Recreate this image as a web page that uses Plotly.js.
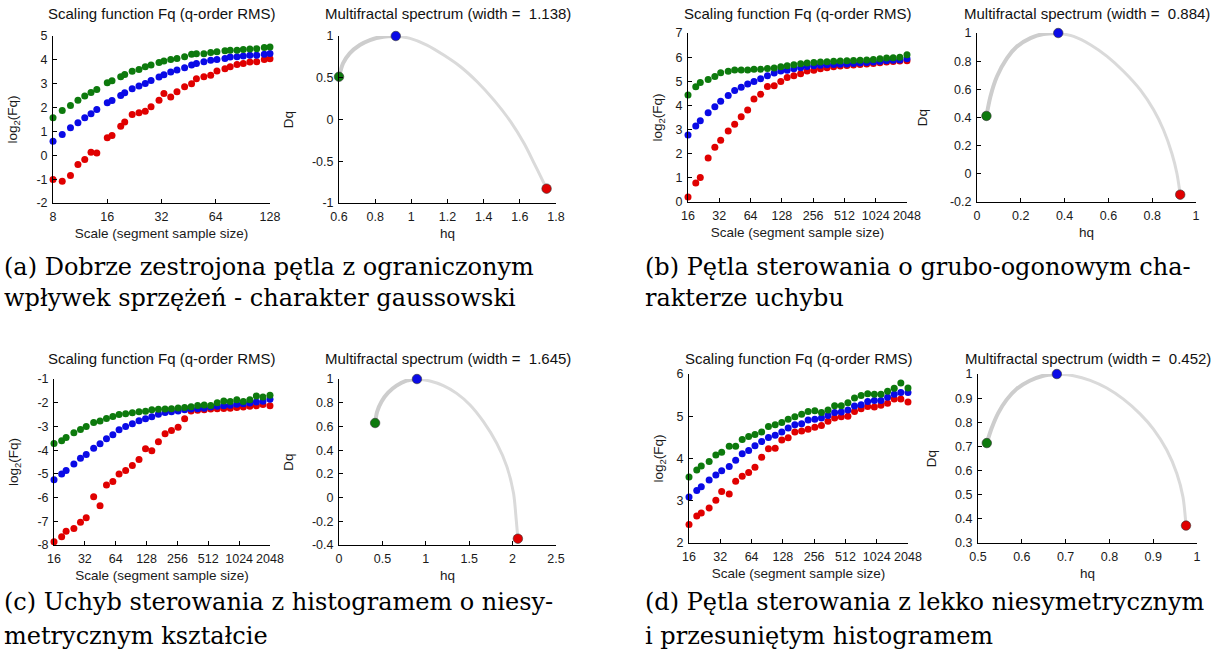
<!DOCTYPE html>
<html><head><meta charset="utf-8">
<script src="https://cdn.plot.ly/plotly-3.0.1.min.js"></script>
<style>body{margin:0;background:#fff}#chart{width:1220px;height:665px}</style>
</head><body><div id="chart"></div>
<script>
// ---------- data ----------
const scalesA = [8,9,10,11,12,13,14,16,17,19,20,22,24,26,28,31,33,36,39,43,47,50,55,60,65,72,77,84,91,99,108,119,128];
const fqA_green = [1.57,1.88,2.09,2.31,2.49,2.63,2.76,3.04,3.12,3.29,3.39,3.52,3.60,3.71,3.78,3.89,3.95,4.02,4.06,4.13,4.23,4.26,4.26,4.31,4.34,4.38,4.40,4.40,4.43,4.45,4.47,4.52,4.54];
const fqA_blue  = [0.59,0.87,1.15,1.36,1.57,1.74,1.92,2.20,2.30,2.51,2.62,2.79,2.90,3.01,3.14,3.28,3.38,3.49,3.57,3.67,3.78,3.85,3.92,3.98,4.02,4.06,4.12,4.13,4.16,4.19,4.19,4.23,4.27];
const fqA_red   = [-1.02,-1.09,-0.85,-0.39,-0.18,0.13,0.10,0.73,0.83,1.22,1.40,1.71,1.78,1.85,2.03,2.31,2.59,2.44,2.66,2.87,3.00,3.21,3.29,3.35,3.53,3.63,3.71,3.81,3.85,3.91,3.92,4.02,4.05];

const scales16 = [16,19,21,25,29,33,39,45,52,60,69,80,93,108,125,144,167,194,224,260,301,348,403,467,541,626,725,839,972,1125,1303,1509,1748,2048];
const fqB_green = [4.43,4.77,4.95,5.07,5.20,5.35,5.42,5.47,5.47,5.47,5.50,5.50,5.53,5.55,5.60,5.64,5.69,5.73,5.76,5.78,5.80,5.81,5.83,5.84,5.85,5.86,5.87,5.88,5.90,5.93,5.96,5.97,6.00,6.10];
const fqB_blue  = [2.77,3.15,3.37,3.70,3.95,4.17,4.41,4.62,4.75,4.89,4.99,5.11,5.23,5.34,5.43,5.46,5.52,5.56,5.61,5.64,5.66,5.68,5.70,5.71,5.72,5.74,5.76,5.78,5.80,5.82,5.85,5.87,5.88,5.93];
const fqB_red   = [0.21,0.79,1.01,1.82,2.27,2.56,2.94,3.22,3.53,3.81,4.27,4.46,4.78,4.82,4.99,5.16,5.23,5.31,5.43,5.46,5.52,5.56,5.60,5.63,5.65,5.67,5.70,5.72,5.74,5.77,5.80,5.82,5.84,5.85];

const fqC_green = [-3.72,-3.60,-3.47,-3.27,-3.13,-3.00,-2.83,-2.77,-2.67,-2.58,-2.50,-2.47,-2.42,-2.38,-2.36,-2.30,-2.28,-2.27,-2.25,-2.22,-2.20,-2.17,-2.12,-2.10,-2.12,-2.00,-1.93,-1.95,-1.88,-1.95,-1.87,-1.72,-1.76,-1.68];
const fqC_blue  = [-5.25,-5.01,-4.86,-4.58,-4.34,-4.18,-3.92,-3.73,-3.52,-3.35,-3.14,-3.00,-2.89,-2.76,-2.68,-2.59,-2.49,-2.41,-2.38,-2.35,-2.30,-2.27,-2.25,-2.23,-2.18,-2.15,-2.13,-2.11,-2.06,-2.04,-2.01,-1.97,-1.94,-1.85];
const fqC_red   = [-7.86,-7.65,-7.42,-7.30,-7.04,-6.85,-5.97,-6.34,-5.47,-5.32,-5.01,-4.86,-4.65,-4.39,-3.94,-4.03,-3.65,-3.31,-3.17,-3.03,-2.68,-2.35,-2.32,-2.30,-2.27,-2.25,-2.24,-2.23,-2.20,-2.18,-2.15,-2.13,-2.08,-2.13];

const fqD_green = [3.56,3.73,3.82,3.93,4.08,4.15,4.29,4.29,4.45,4.52,4.57,4.63,4.76,4.80,4.85,4.93,4.99,5.05,5.11,5.13,5.09,5.15,5.25,5.25,5.32,5.43,5.49,5.53,5.52,5.52,5.59,5.66,5.79,5.67];
const fqD_blue  = [3.09,3.24,3.33,3.49,3.61,3.71,3.81,3.96,4.11,4.19,4.30,4.40,4.50,4.55,4.63,4.72,4.80,4.82,4.91,4.93,4.96,5.02,5.09,5.10,5.15,5.24,5.27,5.35,5.37,5.37,5.45,5.52,5.56,5.56];
const fqD_red   = [2.44,2.64,2.71,2.83,3.01,3.22,3.16,3.46,3.58,3.67,3.79,4.03,4.23,4.24,4.44,4.49,4.63,4.65,4.69,4.74,4.78,4.88,4.96,4.99,5.00,5.11,5.18,5.23,5.22,5.26,5.31,5.41,5.41,5.34];

const spectA_hq = [0.600,0.622,0.659,0.715,0.771,0.845,0.914,0.993,1.086,1.179,1.272,1.364,1.457,1.550,1.624,1.680,1.721,1.748];
const spectA_Dq = [0.512,0.672,0.792,0.892,0.952,0.992,1.000,0.972,0.892,0.772,0.632,0.452,0.232,-0.028,-0.288,-0.528,-0.708,-0.828];
const spectB_hq = [0.043,0.061,0.091,0.137,0.183,0.244,0.304,0.371,0.441,0.518,0.594,0.670,0.746,0.807,0.852,0.890,0.913,0.928];
const spectB_Dq = [0.411,0.548,0.691,0.822,0.905,0.964,0.993,1.000,0.976,0.917,0.834,0.727,0.596,0.453,0.311,0.144,0.002,-0.148];
const spectC_hq = [0.416,0.439,0.489,0.566,0.663,0.778,0.898,1.048,1.202,1.356,1.510,1.664,1.818,1.934,2.011,2.042,2.061];
const spectC_Dq = [0.629,0.724,0.809,0.885,0.944,0.986,1.000,0.983,0.944,0.879,0.781,0.640,0.457,0.261,0.036,-0.189,-0.347];
const spectD_hq = [0.520,0.531,0.546,0.565,0.588,0.618,0.649,0.680,0.718,0.756,0.794,0.832,0.870,0.901,0.931,0.954,0.968,0.975];
const spectD_Dq = [0.714,0.775,0.838,0.893,0.938,0.972,0.993,1.000,0.993,0.974,0.942,0.896,0.835,0.771,0.685,0.588,0.491,0.372];

const spectWidths = ['1.138','0.884','1.645','0.452'];

const xTicksA = [8,16,32,64,128];
const xTicks16 = [16,32,64,128,256,512,1024,2048];
const yTicksFqA = [-2,-1,0,1,2,3,4,5];
const yTicksFqB = [0,1,2,3,4,5,6,7];
const yTicksFqC = [-8,-7,-6,-5,-4,-3,-2,-1];
const yTicksFqD = [2,3,4,5,6];
const hqTicksA = [0.6,0.8,1,1.2,1.4,1.6,1.8];
const hqTicksB = [0,0.2,0.4,0.6,0.8,1];
const hqTicksC = [0,0.5,1,1.5,2,2.5];
const hqTicksD = [0.5,0.6,0.7,0.8,0.9,1];
const dqTicksA = [-1,-0.5,0,0.5,1];
const dqTicksB = [-0.2,0,0.2,0.4,0.6,0.8,1];
const dqTicksC = [-0.4,-0.2,0,0.2,0.4,0.6,0.8,1];
const dqTicksD = [0.3,0.4,0.5,0.6,0.7,0.8,0.9,1];

const captions = [
  ['(a) Dobrze zestrojona pętla z ograniczonym','wpływek sprzężeń - charakter gaussowski'],
  ['(b) Pętla sterowania o grubo-ogonowym cha-','rakterze uchybu'],
  ['(c) Uchyb sterowania z histogramem o niesy-','metrycznym kształcie'],
  ['(d) Pętla sterowania z lekko niesymetrycznym','i przesuniętym histogramem']
];

// ---------- layout geometry (pixels) ----------
const W = 1220, H = 665;
const panels = [
  {scales:scalesA, g:fqA_green, b:fqA_blue, r:fqA_red, xt:xTicksA, yt:yTicksFqA, hq:spectA_hq, dq:spectA_Dq, ht:hqTicksA, dt:dqTicksA,
   L:[53,270], R:[339,556], top:36, bot:203, titleY:14, sL:15, sR:15, capX:2, capY:[267,298]},
  {scales:scales16, g:fqB_green, b:fqB_blue, r:fqB_red, xt:xTicks16, yt:yTicksFqB, hq:spectB_hq, dq:spectB_Dq, ht:hqTicksB, dt:dqTicksB,
   L:[688,907], R:[977,1196], top:33, bot:202, titleY:14, sL:9, sR:19, capX:643, capY:[267,298]},
  {scales:scales16, g:fqC_green, b:fqC_blue, r:fqC_red, xt:xTicks16, yt:yTicksFqC, hq:spectC_hq, dq:spectC_Dq, ht:hqTicksC, dt:dqTicksC,
   L:[54,270], R:[339,556], top:379, bot:545, titleY:358, sL:15, sR:15, capX:2, capY:[602,636]},
  {scales:scales16, g:fqD_green, b:fqD_blue, r:fqD_red, xt:xTicks16, yt:yTicksFqD, hq:spectD_hq, dq:spectD_Dq, ht:hqTicksD, dt:dqTicksD,
   L:[689,908], R:[978,1197], top:374, bot:543, titleY:358, sL:9, sR:15, capX:643, capY:[602,636]}
];

const GREEN = '#0d7a0d', BLUE = '#0a0ae6', RED = '#e00000';
const SANS = 'Liberation Sans, Arial, sans-serif';
const tickFont = {family:SANS, size:12.5, color:'#1a1a1a'};
const labFont = {family:SANS, size:13.5, color:'#1a1a1a'};
const titleFont = {family:SANS, size:15, color:'#111'};
const capFont = {family:'DejaVu Serif, serif', size:24, color:'#000'};

const traces = [];
const layout = {width:W, height:H, margin:{l:0,r:0,t:0,b:0}, paper_bgcolor:'#fff', plot_bgcolor:'rgba(0,0,0,0)', showlegend:false, annotations:[]};

function axisBase(){
  return {showgrid:false, zeroline:false, showline:true, linecolor:'#000', linewidth:1,
          ticks:'inside', ticklen:4, tickcolor:'#000', tickfont:tickFont, tickmode:'array', fixedrange:true,
          ticklabelstandoff:2};
}
const fx = p => p / W;
const fy = p => 1 - p / H;
const EPS = 1e-4;

panels.forEach((P, i) => {
  const nL = 2*i + 1, nR = 2*i + 2;
  const sx = n => n === 1 ? 'x' : 'x' + n;
  const sy = n => n === 1 ? 'y' : 'y' + n;
  const kx = n => n === 1 ? 'xaxis' : 'xaxis' + n;
  const ky = n => n === 1 ? 'yaxis' : 'yaxis' + n;

  // left: scaling function
  [[P.r, RED],[P.b, BLUE],[P.g, GREEN]].forEach(([vals, col]) => {
    traces.push({type:'scatter', mode:'markers', x:P.scales, y:vals, xaxis:sx(nL), yaxis:sy(nL), cliponaxis:false,
      marker:{color:col, size:7, line:{width:0}}, hoverinfo:'skip'});
  });
  const xa = axisBase();
  Object.assign(xa, {type:'log', domain:[fx(P.L[0]), fx(P.L[1])], anchor:sy(nL),
    range:[Math.log10(P.xt[0]) - EPS, Math.log10(P.xt[P.xt.length-1]) + EPS], tickvals:P.xt, ticktext:P.xt.map(String),
    title:{text:'Scale (segment sample size)', font:labFont, standoff:5}});
  const ya = axisBase();
  Object.assign(ya, {domain:[fy(P.bot), fy(P.top)], anchor:sx(nL),
    range:[P.yt[0] - EPS, P.yt[P.yt.length-1] + EPS], tickvals:P.yt, ticktext:P.yt.map(String),
    title:{text:'log<sub>2</sub>(Fq)', font:labFont, standoff:P.sL}});
  layout[kx(nL)] = xa; layout[ky(nL)] = ya;

  // right: multifractal spectrum (curve split at its peak)
  const last = P.hq.length - 1;
  let pk = 0; P.dq.forEach((v, k) => { if (v > P.dq[pk]) pk = k; });
  traces.push({type:'scatter', mode:'lines', x:P.hq.slice(pk), y:P.dq.slice(pk), xaxis:sx(nR), yaxis:sy(nR), cliponaxis:false,
    line:{color:'#dadada', width:3, shape:'spline', smoothing:0.8}, hoverinfo:'skip'});
  traces.push({type:'scatter', mode:'lines', x:P.hq.slice(0, pk+1), y:P.dq.slice(0, pk+1), xaxis:sx(nR), yaxis:sy(nR), cliponaxis:false,
    line:{color:'#cdcdcd', width:4, shape:'spline', smoothing:0.8}, hoverinfo:'skip'});
  traces.push({type:'scatter', mode:'markers', x:[P.hq[0], P.hq[pk], P.hq[last]], y:[P.dq[0], P.dq[pk], P.dq[last]],
    xaxis:sx(nR), yaxis:sy(nR), cliponaxis:false,
    marker:{color:[GREEN, BLUE, RED], size:9.5, line:{color:'#333', width:0.6}}, hoverinfo:'skip'});
  const xb = axisBase();
  Object.assign(xb, {domain:[fx(P.R[0]), fx(P.R[1])], anchor:sy(nR),
    range:[P.ht[0] - EPS, P.ht[P.ht.length-1] + EPS], tickvals:P.ht, ticktext:P.ht.map(String),
    title:{text:'hq', font:labFont, standoff:5}});
  const yb = axisBase();
  Object.assign(yb, {domain:[fy(P.bot), fy(P.top)], anchor:sx(nR),
    range:[P.dt[0] - EPS, P.dt[P.dt.length-1] + EPS], tickvals:P.dt, ticktext:P.dt.map(String),
    title:{text:'Dq', font:labFont, standoff:P.sR}});
  layout[kx(nR)] = xb; layout[ky(nR)] = yb;

  const A = layout.annotations;
  const ann = (text, x, y, font, extra) => A.push(Object.assign({text, x:fx(x), y:fy(y), xref:'paper', yref:'paper',
    showarrow:false, xanchor:'center', yanchor:'middle', font}, extra || {}));
  ann('Scaling function Fq (q-order RMS)', (P.L[0]+P.L[1])/2, P.titleY, titleFont);
  ann('Multifractal spectrum (width = \u00a0' + spectWidths[i] + ')', (P.R[0]+P.R[1])/2, P.titleY, titleFont);
  ann(captions[i][0], P.capX, P.capY[0], capFont, {xanchor:'left'});
  ann(captions[i][1], P.capX, P.capY[1], capFont, {xanchor:'left'});
});

Plotly.newPlot('chart', traces, layout, {staticPlot:true, displayModeBar:false});
</script></body></html>
